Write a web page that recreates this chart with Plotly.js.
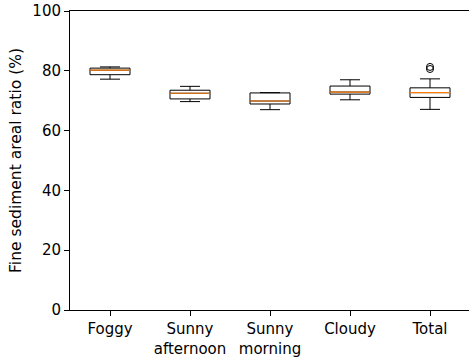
<!DOCTYPE html>
<html>
<head>
<meta charset="utf-8">
<script src="https://cdn.plot.ly/plotly-3.0.1.min.js"></script>
<style>
  html, body { margin: 0; padding: 0; overflow: hidden; background: #fff; }
  #chart { width: 472px; height: 357px; }
</style>
</head>
<body>
<div id="chart"></div>
<script>
// Fine sediment areal ratio (%) by weather condition
const categories = ["Foggy", "Sunny<br>afternoon", "Sunny<br>morning", "Cloudy", "Total"];
const positions = [1, 2, 3, 4, 5];
const lowerWhisker = [77.2, 69.7, 67.0, 70.3, 67.1];
const q1Values     = [78.7, 70.6, 68.9, 72.2, 71.1];
const medians      = [80.2, 72.5, 69.9, 72.9, 72.7];
const q3Values     = [80.9, 73.5, 72.6, 74.9, 74.3];
const upperWhisker = [81.3, 74.8, 72.7, 77.0, 77.3];
const outlierX     = [5, 5];
const outlierY     = [81.3, 80.6];

const tickFont = { family: "DejaVu Sans, sans-serif", size: 15, color: "#000" };
const titleFont = { family: "DejaVu Sans, sans-serif", size: 15.5, color: "#000" };

const boxes = {
  type: "box",
  x: positions,
  q1: q1Values,
  median: medians,
  q3: q3Values,
  lowerfence: lowerWhisker,
  upperfence: upperWhisker,
  width: 0.5,
  whiskerwidth: 0.5,
  fillcolor: "#ffffff",
  line: { color: "#000000", width: 1 },
  boxpoints: false,
  hoverinfo: "skip",
  showlegend: false
};

// Orange median bars drawn as collapsed boxes on top
const medianBars = {
  type: "box",
  x: positions,
  q1: medians,
  median: medians,
  q3: medians,
  lowerfence: medians,
  upperfence: medians,
  width: 0.5,
  whiskerwidth: 0,
  fillcolor: "rgba(0,0,0,0)",
  line: { color: "#ff7f0e", width: 1.2 },
  boxpoints: false,
  hoverinfo: "skip",
  showlegend: false
};

const fliers = {
  type: "scatter",
  mode: "markers",
  x: outlierX,
  y: outlierY,
  marker: { symbol: "circle-open", size: 7, color: "#000", line: { width: 1, color: "#000" } },
  hoverinfo: "skip",
  showlegend: false
};

const layout = {
  width: 472,
  height: 357,
  margin: { l: 70, r: 2, t: 11, b: 47 },
  paper_bgcolor: "#fff",
  plot_bgcolor: "#fff",
  font: tickFont,
  boxmode: "overlay",
  xaxis: {
    range: [0.5, 5.5],
    tickvals: positions,
    ticktext: categories,
    ticks: "outside",
    ticklen: 5,
    tickcolor: "#000",
    showgrid: false,
    zeroline: false,
    showline: true,
    linecolor: "#000",
    linewidth: 1,
    mirror: true,
    tickfont: tickFont
  },
  yaxis: {
    range: [0, 100],
    tickvals: [0, 20, 40, 60, 80, 100],
    ticks: "outside",
    ticklen: 5,
    tickcolor: "#000",
    showgrid: false,
    zeroline: false,
    showline: true,
    linecolor: "#000",
    linewidth: 1,
    mirror: true,
    tickfont: tickFont,
    title: { text: "Fine sediment areal ratio (%)", font: titleFont, standoff: 6 }
  }
};

Plotly.newPlot("chart", [boxes, medianBars, fliers], layout, { staticPlot: true, displayModeBar: false });
</script>
</body>
</html>
